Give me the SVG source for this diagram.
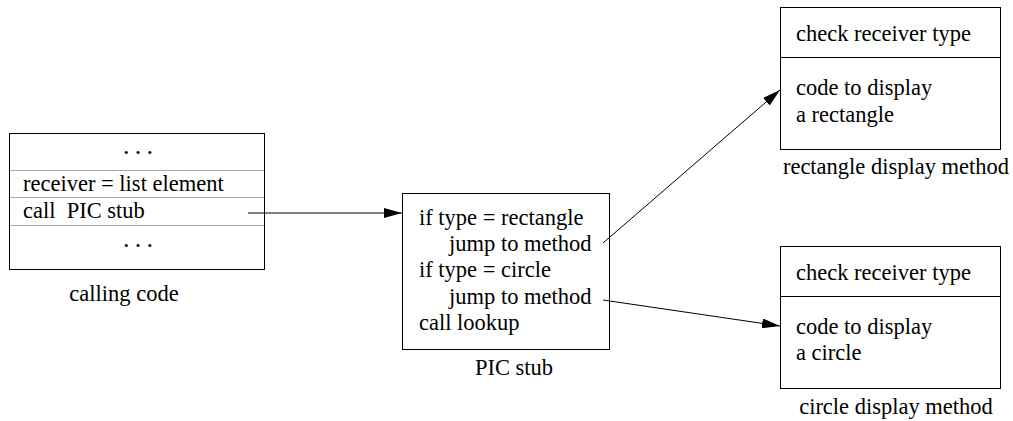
<svg xmlns="http://www.w3.org/2000/svg" width="1013" height="421" viewBox="0 0 1013 421">
<style>
text{font-family:"Liberation Serif","Times New Roman",serif;font-size:22.5px;fill:#000}
.box{fill:#fff;stroke:#000;stroke-width:1}
.sep{stroke:#aaa;stroke-width:1}
.sep2{stroke:#000;stroke-width:1}
.c{text-anchor:middle}
.dots{font-size:13px;letter-spacing:2px}
.conn{stroke:#000;stroke-width:1;fill:none;marker-end:url(#ah)}
</style>
<defs>
<marker id="ah" markerWidth="18" markerHeight="10" refX="18" refY="5" orient="auto" markerUnits="userSpaceOnUse">
<path d="M0,0 L18,5 L0,10 Z" fill="#000"/>
</marker>
</defs>
<g id="calling-code">
<rect class="box" x="9.5" y="133.5" width="255" height="136"/>
<line class="sep" x1="10" y1="170.5" x2="264" y2="170.5"/>
<line class="sep" x1="10" y1="197.5" x2="264" y2="197.5"/>
<line class="sep" x1="10" y1="225.5" x2="264" y2="225.5"/>
<text class="c dots" x="139" y="157">• • •</text>
<text x="23" y="191">receiver = list element</text>
<text x="23" y="218" xml:space="preserve">call  PIC stub</text>
<text class="c dots" x="139" y="250">• • •</text>
<text class="c" x="124" y="301">calling code</text>
</g>
<g id="pic-stub">
<rect class="box" x="402.5" y="193.5" width="207" height="156"/>
<text x="419" y="225">if type = rectangle</text>
<text x="449" y="251">jump to method</text>
<text x="419" y="277">if type = circle</text>
<text x="449" y="304">jump to method</text>
<text x="419" y="330">call lookup</text>
<text class="c" x="514" y="375">PIC stub</text>
</g>
<g id="rectangle-method">
<rect class="box" x="780.5" y="7.5" width="220" height="142"/>
<line class="sep2" x1="781" y1="57.5" x2="1000" y2="57.5"/>
<text x="796" y="41">check receiver type</text>
<text x="796" y="95">code to display</text>
<text x="796" y="122">a rectangle</text>
<text class="c" x="896" y="174">rectangle display method</text>
</g>
<g id="circle-method">
<rect class="box" x="780.5" y="246.5" width="220" height="142"/>
<line class="sep2" x1="781" y1="296.5" x2="1000" y2="296.5"/>
<text x="796" y="280">check receiver type</text>
<text x="796" y="334">code to display</text>
<text x="796" y="360">a circle</text>
<text class="c" x="896" y="414">circle display method</text>
</g>
<g id="connectors">
<line class="conn" x1="248" y1="213" x2="402" y2="213"/>
<line class="conn" x1="603" y1="243" x2="780" y2="90"/>
<line class="conn" x1="603" y1="300" x2="780" y2="326"/>
</g>
</svg>
